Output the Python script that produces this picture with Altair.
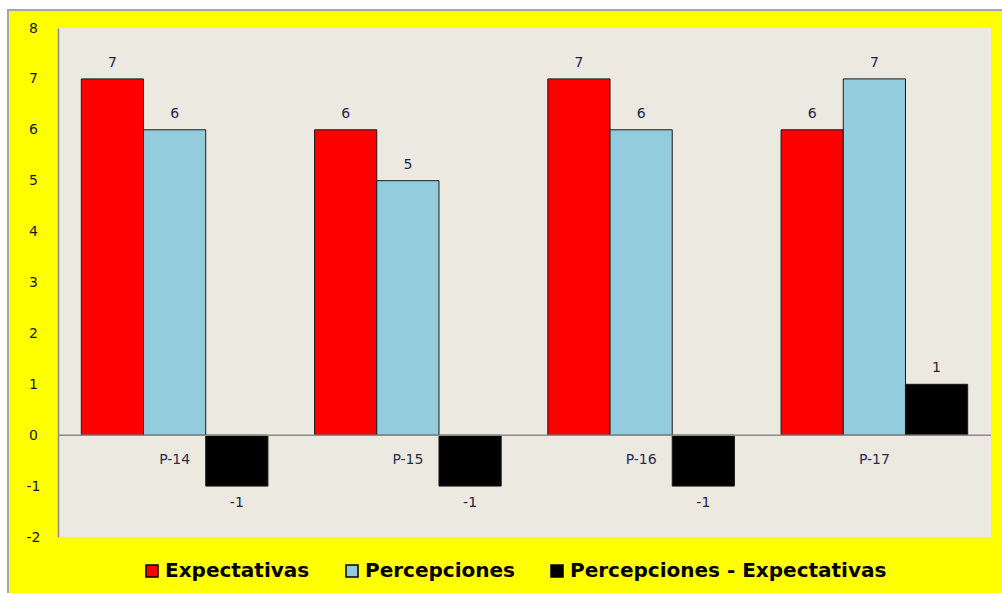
import altair as alt
import pandas as pd

categories = ["P-14", "P-15", "P-16", "P-17"]
series_names = ["Expectativas", "Percepciones", "Percepciones - Expectativas"]
expectativas = [7, 6, 7, 6]
percepciones = [6, 5, 6, 7]
diferencia = [-1, -1, -1, 1]
series_colors = ["#FF0000", "#93CDDD", "#000000"]
y_ticks = [-2, -1, 0, 1, 2, 3, 4, 5, 6, 7, 8]

rows = []
for i, c in enumerate(categories):
    for s, vals in zip(series_names, [expectativas, percepciones, diferencia]):
        rows.append({"cat": c, "series": s, "value": vals[i], "label": str(vals[i])})
df = pd.DataFrame(rows)
cats_df = pd.DataFrame({"cat": categories})
one = pd.DataFrame({"k": [0]})

W, H = 933, 509
PAD = {"left": 58, "top": 28, "right": 11, "bottom": 56}

x_enc = alt.X("cat:N", sort=categories,
              scale=alt.Scale(paddingInner=0.2, paddingOuter=0.1), axis=None)
xo_enc = alt.XOffset("series:N", sort=series_names, scale=alt.Scale(paddingInner=0, paddingOuter=0))
y_scale = alt.Scale(domain=[-2, 8], nice=False, zero=False)

yellow = alt.Chart(one).mark_rect(fill="#FFFF00", stroke="#A6A6A6", strokeWidth=2).encode(
    x=alt.value(-50), x2=alt.value(W + 30), y=alt.value(-18), y2=alt.value(H + 70))
beige = alt.Chart(one).mark_rect(fill="#ECE9E0").encode(
    x=alt.value(0), x2=alt.value(W), y=alt.value(0), y2=alt.value(H))

bars = alt.Chart(df).mark_bar(stroke="#1a1a1a", strokeWidth=1).encode(
    x=x_enc, xOffset=xo_enc,
    y=alt.Y("value:Q", scale=y_scale,
            axis=alt.Axis(values=y_ticks, title=None, grid=False, ticks=False,
                          domain=True, domainColor="#8C8C8C", domainWidth=1.5,
                          labelAlign="center", labelPadding=25, zindex=2,
                          labelFont="DejaVu Sans", labelFontSize=14,
                          labelColor="#1a1a1a", labelFontWeight="normal",
                          labelExpr="replace(datum.label, '\u2212', '-')")),
    y2=alt.Y2(datum=0),
    color=alt.Color("series:N", sort=series_names,
                    scale=alt.Scale(domain=series_names, range=series_colors),
                    legend=alt.Legend(title=None, orient="none", direction="horizontal",
                                      legendX=84, legendY=533, zindex=2,
                                      symbolType="square", symbolSize=144,
                                      symbolStrokeColor="#000000", symbolStrokeWidth=1.5,
                                      labelFont="DejaVu Sans", labelFontSize=20,
                                      labelFontWeight="bold", labelColor="#000000",
                                      labelLimit=500, gridAlign="none",
                                      columnPadding=32, symbolOffset=0, labelOffset=3)),
)

zero = alt.Chart(one).mark_rule(color="#8C8C8C", strokeWidth=1.5).encode(
    x=alt.value(0), x2=alt.value(W), y=alt.Y(datum=0, scale=y_scale))

pos_labels = alt.Chart(df).transform_filter("datum.value >= 0").mark_text(
    baseline="bottom", dy=-9, font="DejaVu Sans", fontSize=14, color="#1F1F47").encode(
    x=x_enc, xOffset=xo_enc, y=alt.Y("value:Q", scale=y_scale), text="label:N")

neg_labels = alt.Chart(df).transform_filter("datum.value < 0").mark_text(
    baseline="top", dy=10, font="DejaVu Sans", fontSize=14, color="#1F1F47").encode(
    x=x_enc, xOffset=xo_enc, y=alt.Y("value:Q", scale=y_scale), text="label:N")

cat_labels = alt.Chart(cats_df).mark_text(
    baseline="middle", dy=25, font="DejaVu Sans", fontSize=14, color="#2B2B55").encode(
    x=x_enc, y=alt.Y(datum=0, scale=y_scale), text="cat:N")

chart = alt.layer(yellow, beige, bars, zero, pos_labels, neg_labels, cat_labels).properties(
    width=W, height=H, padding=PAD, background="white",
    autosize=alt.AutoSizeParams(type="none")
).configure_view(stroke=None, fill=None)

chart.save("out.html", embed_options={"renderer": "svg", "actions": False})
